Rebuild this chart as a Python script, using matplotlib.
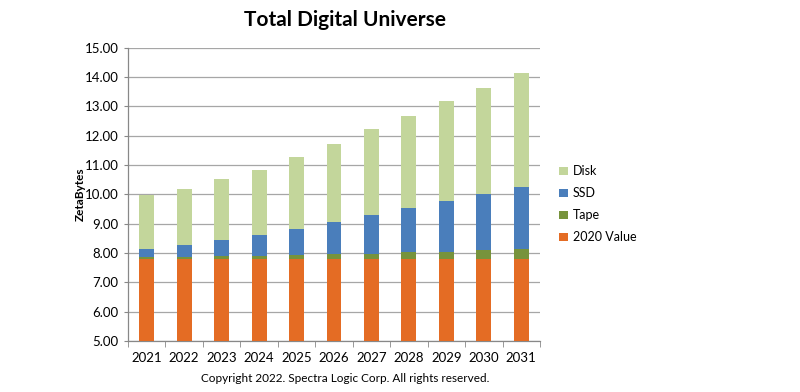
import matplotlib
matplotlib.use("Agg")
import matplotlib.pyplot as plt
import numpy as np

years = ["2021", "2022", "2023", "2024", "2025", "2026", "2027", "2028", "2029", "2030", "2031"]
value_2020 = [7.79] * 11
tape = [0.07, 0.08, 0.10, 0.12, 0.14, 0.17, 0.19, 0.24, 0.26, 0.31, 0.34]
ssd = [0.27, 0.40, 0.54, 0.70, 0.89, 1.09, 1.33, 1.50, 1.73, 1.90, 2.11]
disk = [1.84, 1.91, 2.11, 2.22, 2.44, 2.67, 2.92, 3.16, 3.41, 3.64, 3.90]

colors = {"2020 Value": "#E46C24", "Tape": "#77933C", "SSD": "#4A7EBB", "Disk": "#C3D69B"}

plt.rcParams['font.family'] = ['Lato', 'DejaVu Sans']

fig = plt.figure(figsize=(8, 3.92), dpi=100)
ax = fig.add_axes([0.16, 0.13, 0.515, 0.748])

x = np.arange(len(years))
w = 0.4
b0 = np.zeros(len(years))
series = [("2020 Value", value_2020), ("Tape", tape), ("SSD", ssd), ("Disk", disk)]
handles = {}
for name, vals in series:
    vals = np.array(vals)
    h = ax.bar(x, vals, w, bottom=b0, color=colors[name], zorder=3, label=name)
    handles[name] = h
    b0 = b0 + vals

ax.set_ylim(5, 15)
ax.set_xlim(-0.5, len(years) - 0.5)
ax.set_yticks(np.arange(5, 15.01, 1))
ax.set_yticklabels([f"{v:.2f}" for v in np.arange(5, 15.01, 1)], fontsize=9.5)
ax.set_xticks(x)
ax.set_xticklabels(years, fontsize=9.5)
ax.set_xticks(np.arange(-0.5, len(years), 1), minor=True)
ax.tick_params(axis='x', which='major', length=0, pad=8)
ax.tick_params(axis='x', which='minor', length=4, color='#888888', direction='out')
ax.tick_params(axis='y', which='major', length=3, color='#888888', pad=4)
ax.grid(axis='y', color='#A6A6A6', linewidth=0.9, zorder=0)
for s in ['top', 'right']:
    ax.spines[s].set_visible(False)
for s in ['left', 'bottom']:
    ax.spines[s].set_color('#888888')
    ax.spines[s].set_linewidth(0.9)

fig.text(0.1, 0.505, "ZetaBytes", rotation=90, ha='center', va='center', fontsize=8.5, fontweight='bold')

fig.text(0.431, 0.948, "Total Digital Universe", ha='center', va='center', fontsize=15, fontweight='bold')
fig.text(0.431, 0.034, "Copyright 2022. Spectra Logic Corp. All rights reserved.", ha='center', va='center', fontsize=8.5)

order = ["Disk", "SSD", "Tape", "2020 Value"]
leg = fig.legend([handles[n] for n in order], order, loc='upper left',
                 bbox_to_anchor=(0.685, 0.607), frameon=False, fontsize=9,
                 handlelength=0.7, handleheight=0.7, handletextpad=0.4, labelspacing=0.8)

fig.savefig("out.png", dpi=100)
